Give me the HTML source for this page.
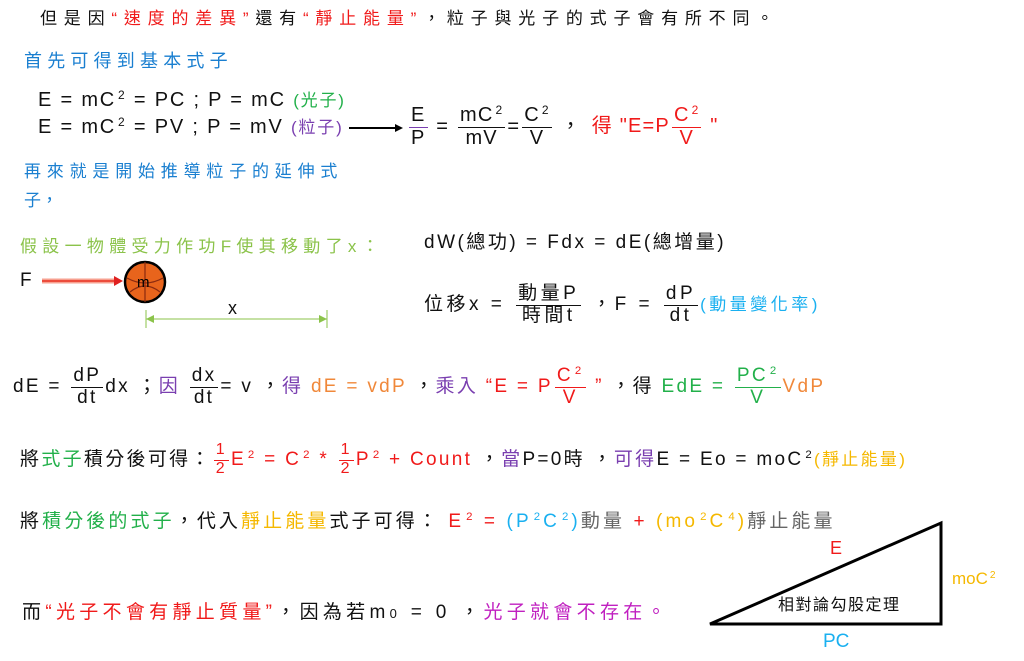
<!DOCTYPE html>
<html><head><meta charset="utf-8"><style>
body{margin:0;width:1024px;height:661px;background:#fff;position:relative;overflow:hidden;font-family:"Liberation Sans","Noto Sans CJK TC",sans-serif;color:#111}
.l{position:absolute;white-space:nowrap;line-height:1}
.f{display:inline-flex;flex-direction:column;align-items:center;vertical-align:middle;margin:0 2px;line-height:1.05}
.f>span:first-child{border-bottom:1.5px solid currentColor;padding:0 2px 1px}
sup{font-size:60%;vertical-align:baseline;position:relative;top:-0.6em;margin-left:2px}
.r{color:#f01a1a}.b{color:#1a7fd0}.g{color:#22b04a}.p{color:#7a3fb0}.o{color:#f0883a}.y{color:#f5b800}.c{color:#1ab0f0}.lg{color:#8bc34a}.gr{color:#666}.m{color:#c020c0}
</style></head><body>
<div class="l" style="left:40px;top:10px;font-size:17px;letter-spacing:6.8px">但是因<span class="r">“速度的差異”</span>還有<span class="r">“靜止能量”</span>，粒子與光子的式子會有所不同。</div>
<div class="l b" style="left:24px;top:52px;font-size:18px;letter-spacing:5.2px">首先可得到基本式子</div>
<div class="l" style="left:38px;top:90px;font-size:20px;letter-spacing:1.8px">E = mC<sup>2</sup> = PC ; P = mC <span class="g" style="font-size:17px">(光子)</span></div>
<div class="l" style="left:38px;top:117px;font-size:20px;letter-spacing:1.8px">E = mC<sup>2</sup> = PV ; P = mV <span class="p" style="font-size:17px">(粒子)</span></div>
<svg style="position:absolute;left:347px;top:122px" width="60" height="12"><line x1="2" y1="6" x2="50" y2="6" stroke="#000" stroke-width="2"/><polygon points="48,2 56,6 48,10" fill="#000"/></svg>
<div class="l" style="left:407px;top:105px;font-size:20px;letter-spacing:1.2px"><span class="f"><span style="border-color:#7a3fb0">E</span><span>P</span></span> = <span class="f"><span>mC<sup>2</sup></span><span>mV</span></span>=<span class="f"><span>C<sup>2</sup></span><span>V</span></span> ，<span class="r" style="margin-left:10px">得 "E=P<span class="f"><span>C<sup>2</sup></span><span>V</span></span> "</span></div>
<div class="l b" style="left:24px;top:163px;font-size:17px;letter-spacing:5.8px">再來就是開始推導粒子的延伸式</div>
<div class="l b" style="left:24px;top:192px;font-size:17px">子，</div>
<div class="l lg" style="left:20px;top:238px;font-size:17px;letter-spacing:5.3px">假設一物體受力作功F使其移動了x：</div>
<div class="l" style="left:20px;top:271px;font-size:19px">F</div>
<svg style="position:absolute;left:40px;top:258px" width="300" height="70">
<line x1="2" y1="23" x2="78" y2="23" stroke="#f7a090" stroke-width="5"/><line x1="2" y1="23" x2="78" y2="23" stroke="#e83020" stroke-width="1.5"/>
<polygon points="74,18 83,23 74,28" fill="#e02020"/>
<circle cx="105" cy="24" r="20" fill="#e8641c" stroke="#000" stroke-width="2.5"/>
<path d="M87,20 Q105,30 123,20 M90,34 Q105,22 120,34 M105,4 L105,44" stroke="#8a2a10" stroke-width="1.2" fill="none"/>
<text x="97" y="29" font-size="15" font-family="Liberation Sans">m</text>
<line x1="106" y1="61" x2="287" y2="61" stroke="#8bc34a" stroke-width="1"/>
<line x1="106" y1="52" x2="106" y2="70" stroke="#8bc34a"/><line x1="287" y1="52" x2="287" y2="70" stroke="#8bc34a"/>
<polygon points="106,61 114,57 114,65" fill="#8bc34a"/><polygon points="287,61 279,57 279,65" fill="#8bc34a"/>
</svg>
<div class="l" style="left:228px;top:299px;font-size:18px">x</div>
<div class="l" style="left:424px;top:233px;font-size:19px;letter-spacing:2.5px">dW(總功) = Fdx = dE(總增量)</div>
<div class="l" style="left:424px;top:284px;font-size:19px;letter-spacing:3.5px">位移x = <span class="f"><span>動量P</span><span>時間t</span></span> ，F = <span class="f"><span>dP</span><span>dt</span></span><span class="c" style="font-size:17px">(動量變化率)</span></div>
<div class="l" style="left:13px;top:366px;font-size:19px;letter-spacing:2.3px">dE = <span class="f"><span>dP</span><span>dt</span></span>dx ；<span class="p">因</span> <span class="f"><span>dx</span><span>dt</span></span>= v ，<span class="p">得</span> <span class="o">dE = vdP</span> ，<span class="p">乘入</span> <span class="r">“E = P<span class="f"><span>C<sup>2</sup></span><span>V</span></span> ”</span> ，得 <span class="g">EdE = <span class="f"><span>PC<sup>2</sup></span><span>V</span></span></span><span class="o">VdP</span></div>
<div class="l" style="left:20px;top:442px;font-size:19px;letter-spacing:2.3px">將<span class="g">式子</span>積分後可得：<span class="r"><span class="f" style="font-size:16px"><span>1</span><span>2</span></span>E<sup>2</sup> = C<sup>2</sup> * <span class="f" style="font-size:16px"><span>1</span><span>2</span></span>P<sup>2</sup> + Count</span> ，<span class="p">當</span>P=0時 ，<span class="p">可得</span>E = Eo = moC<sup>2</sup><span class="y" style="font-size:17px">(靜止能量)</span></div>
<div class="l" style="left:20px;top:512px;font-size:19px;letter-spacing:3.1px">將<span class="g">積分後的式子</span>，代入<span class="y">靜止能量</span>式子可得： <span class="r">E<sup>2</sup> = </span><span class="c">(P<sup>2</sup>C<sup>2</sup>)</span><span class="gr">動量</span> <span class="r">+</span> <span class="y">(mo<sup>2</sup>C<sup>4</sup>)</span><span class="gr">靜止能量</span></div>
<svg style="position:absolute;left:700px;top:515px" width="250" height="120"><polygon points="10,109 241,8 241,109" fill="none" stroke="#000" stroke-width="3"/></svg>
<div class="l r" style="left:830px;top:539px;font-size:18px">E</div>
<div class="l y" style="left:952px;top:570px;font-size:17px">moC<sup>2</sup></div>
<div class="l c" style="left:823px;top:632px;font-size:19px">PC</div>
<div class="l" style="left:778px;top:598px;font-size:16px;letter-spacing:1.5px">相對論勾股定理</div>
<div class="l" style="left:22px;top:603px;font-size:19px;letter-spacing:4.3px">而<span class="r">“光子不會有靜止質量”</span>，因為若m<span style="font-size:13px">0</span> = 0 ，<span class="m">光子就會不存在。</span></div>
</body></html>
